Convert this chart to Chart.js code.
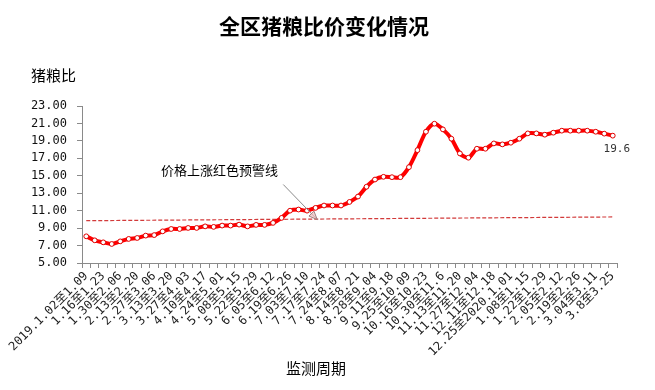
<!DOCTYPE html>
<html>
<head>
<meta charset="utf-8">
<script src="https://cdn.jsdelivr.net/npm/chart.js@4/dist/chart.umd.min.js"></script>
<style>
html,body{margin:0;padding:0;background:#fff;}
#wrap{width:655px;height:390px;position:relative;}
</style>
</head>
<body>
<div id="wrap"><canvas id="c" width="655" height="390"></canvas></div>
<script>
const chartTitle = '全区猪粮比价变化情况';
const yAxisTitle = '猪粮比';
const xAxisTitle = '监测周期';
const warningText = '价格上涨红色预警线';

const categories = [
  '2019.1.02至1.09','1.09至1.16','1.16至1.23','1.23至1.30','1.30至2.06','2.06至2.13',
  '2.13至2.20','2.20至2.27','2.27至3.06','3.06至3.13','3.13至3.20','3.20至3.27',
  '3.27至4.03','4.03至4.10','4.10至4.17','4.17至4.24','4.24至5.01','5.01至5.08',
  '5.08至5.15','5.15至5.22','5.22至5.29','5.29至6.05','6.05至6.12','6.12至6.19',
  '6.19至6.26','6.26至7.03','7.03至7.10','7.10至7.17','7.17至7.24','7.24至7.31',
  '7.24至8.07','8.07至8.14','8.14至8.21','8.21至8.28','8.28至9.04','9.04至9.11',
  '9.11至9.18','9.18至9.25','9.25至10.09','10.09至10.16','10.16至10.23','10.23至10.30',
  '10.30至11.6','11.6至11.13','11.13至11.20','11.20至11.27','11.27至12.04','12.04至12.11',
  '12.11至12.18','12.18至12.25','12.25至2020.1.01','1.01至1.08','1.08至1.15','1.15至1.22',
  '1.22至1.29','1.29至2.05','2.05至2.12','2.12至2.19','2.19至2.26','2.26至3.04',
  '3.04至3.11','3.11至3.18','3.8至3.25'
];

const pigGrainRatio = [
  8.06, 7.60, 7.37, 7.18, 7.48, 7.76, 7.87, 8.14, 8.20, 8.63,
  8.90, 8.90, 9.02, 9.02, 9.20, 9.14, 9.29, 9.29, 9.40, 9.20,
  9.37, 9.37, 9.60, 10.17, 11.00, 11.13, 11.00, 11.32, 11.59, 11.59,
  11.59, 12.00, 12.62, 13.74, 14.57, 14.88, 14.84, 14.84, 15.99, 17.94,
  20.05, 20.97, 20.32, 19.25, 17.56, 17.07, 18.10, 18.10, 18.71, 18.60,
  18.79, 19.25, 19.86, 19.86, 19.71, 19.94, 20.17, 20.17, 20.17, 20.17,
  20.05, 19.83, 19.60
];

const warningStart = 9.85;
const warningEnd = 10.28;

const yTicks = [5, 7, 9, 11, 13, 15, 17, 19, 21, 23];

const warningData = categories.map((c, i) => i === 0 ? warningStart : (i === categories.length - 1 ? warningEnd : null));

const monoFont = '"DejaVu Sans Mono", "Noto Sans CJK SC", monospace';
const cjkFont = '"Noto Sans CJK SC", sans-serif';

const overlay = {
  id: 'overlay',
  afterDraw(chart) {
    const ctx = chart.ctx;
    const xs = chart.scales.x, ys = chart.scales.y;
    ctx.save();
    ctx.fillStyle = '#000';
    ctx.font = 'bold 21px ' + cjkFont;
    ctx.textAlign = 'center';
    ctx.textBaseline = 'middle';
    ctx.fillText(chartTitle, 324, 26);
    ctx.font = '15px ' + cjkFont;
    ctx.textAlign = 'left';
    ctx.fillText(yAxisTitle, 31, 75);
    ctx.textAlign = 'center';
    ctx.fillText(xAxisTitle, 316, 368);
    ctx.font = '13px ' + cjkFont;
    ctx.fillText(warningText, xs.getPixelForValue(15.7), ys.getPixelForValue(15.64));
    const x1 = xs.getPixelForValue(23.2), y1 = ys.getPixelForValue(14.0);
    const x2 = xs.getPixelForValue(27.2), y2 = ys.getPixelForValue(9.98);
    ctx.strokeStyle = '#8a8a8a';
    ctx.lineWidth = 1;
    ctx.beginPath(); ctx.moveTo(x1, y1); ctx.lineTo(x2, y2); ctx.stroke();
    const ang = Math.atan2(y2 - y1, x2 - x1);
    const L = 9, W = 0.4;
    ctx.beginPath();
    ctx.moveTo(x2, y2);
    ctx.lineTo(x2 - L * Math.cos(ang - W), y2 - L * Math.sin(ang - W));
    ctx.lineTo(x2 - L * Math.cos(ang + W), y2 - L * Math.sin(ang + W));
    ctx.closePath();
    ctx.fillStyle = 'rgba(240,190,190,0.7)';
    ctx.fill();
    ctx.strokeStyle = '#a08080';
    ctx.stroke();
    const meta = chart.getDatasetMeta(1);
    const last = meta.data[meta.data.length - 1];
    ctx.fillStyle = '#333';
    ctx.font = '11px ' + monoFont;
    ctx.textAlign = 'center';
    ctx.fillText(String(pigGrainRatio[pigGrainRatio.length - 1]), last.x + 4, last.y + 13);
    ctx.restore();
  }
};

new Chart(document.getElementById('c'), {
  type: 'line',
  data: {
    labels: categories,
    datasets: [
      {
        label: '预警线',
        data: warningData,
        spanGaps: true,
        borderColor: '#d23a3a',
        borderWidth: 1.2,
        borderDash: [4, 2],
        pointRadius: 0,
        tension: 0,
        order: 2
      },
      {
        label: yAxisTitle,
        data: pigGrainRatio,
        borderColor: '#ff0000',
        borderWidth: 4,
        tension: 0.3,
        pointRadius: 2.4,
        pointBackgroundColor: '#ffffff',
        pointBorderColor: '#e00000',
        pointBorderWidth: 1,
        order: 1
      }
    ]
  },
  options: {
    responsive: false,
    animation: false,
    layout: { padding: { top: 106, right: 38, left: 0, bottom: 0 } },
    plugins: { legend: { display: false }, title: { display: false }, tooltip: { enabled: false } },
    scales: {
      x: {
        type: 'category',
        offset: true,
        afterFit(s) { s.height = 127; },
        grid: { display: true, drawOnChartArea: false, offset: true, tickLength: 5, color: '#8a8a8a' },
        border: { color: '#8a8a8a', width: 1 },
        ticks: {
          autoSkip: false,
          minRotation: 45,
          maxRotation: 45,
          padding: 1,
          color: '#222',
          font: { family: monoFont, size: 12 },
          callback(v, i) { return i % 2 === 0 ? categories[i] : ''; }
        }
      },
      y: {
        min: 5,
        max: 23,
        afterFit(s) { s.width = 82; },
        afterBuildTicks(s) { s.ticks = yTicks.map(v => ({ value: v })); },
        grid: { display: true, drawOnChartArea: false, tickLength: 5, color: '#8a8a8a' },
        border: { color: '#8a8a8a', width: 1 },
        ticks: {
          padding: 10,
          color: '#111',
          font: { family: monoFont, size: 12 },
          callback(v) { return Number(v).toFixed(2); }
        }
      }
    }
  },
  plugins: [overlay]
});
</script>
</body>
</html>
